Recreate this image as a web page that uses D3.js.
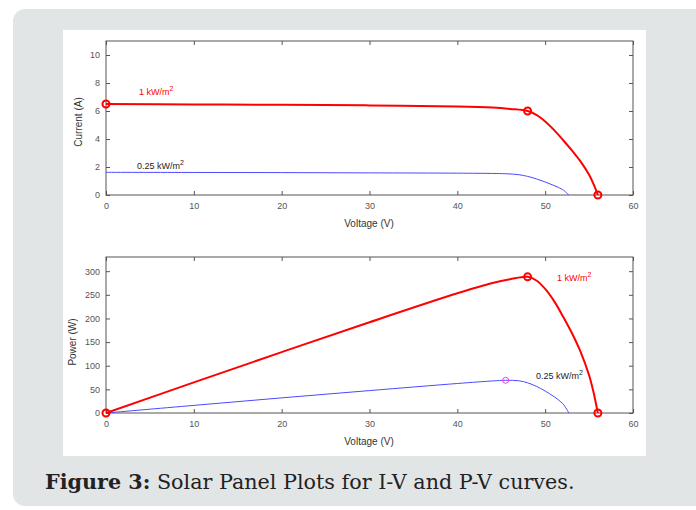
<!DOCTYPE html>
<meta charset="utf-8">
<head>
<style>
  body { margin: 0; background: #fff; }
  .tick text { font-family: "Liberation Sans", Arial, sans-serif; font-size: 9px; fill: #555; }
  .tick line { stroke: #555; }
  .axisText { font-family: "Liberation Sans", Arial, sans-serif; font-size: 10px; fill: #333; }
  .note { font-family: "Liberation Sans", Arial, sans-serif; font-size: 9px; }
</style>
</head>
<body>
<script src="https://d3js.org/d3.v7.min.js"></script>
<script>

// 1 kW/m2 curve
var voltHigh   = [0, 10, 20, 30, 40, 44, 46, 48, 49, 50, 51, 52, 53, 54, 55, 55.5, 56];
var currHigh   = [6.5, 6.47, 6.44, 6.4, 6.33, 6.25, 6.15, 6.0, 5.72, 5.25, 4.65, 3.95, 3.22, 2.42, 1.45, 0.8, 0];
var powerHigh  = [0, 64.7, 128.8, 192, 253.2, 275, 282.9, 288, 280.3, 262.5, 237.2, 205.4, 170.7, 130.7, 79.8, 44.4, 0];
// 0.25 kW/m2 curve
var voltLow    = [0, 10, 20, 30, 40, 44, 45.5, 47, 48, 49, 50, 51, 52, 52.7];
var currLow    = [1.62, 1.61, 1.6, 1.58, 1.56, 1.54, 1.52, 1.45, 1.33, 1.15, 0.93, 0.68, 0.38, 0];
var powerLow   = [0, 16.1, 32, 47.4, 62.4, 67.8, 69.2, 68.2, 63.8, 56.4, 46.5, 34.7, 19.8, 0];
// marked points
var ivMarks    = [[0, 6.5], [48, 6.0], [56, 0]];
var pvMarks    = [[0, 0], [48, 288], [56, 0]];
var pvMarkLow  = [[45.5, 69.2]];

var xTicks  = [0, 10, 20, 30, 40, 50, 60];
var iTicks  = [0, 2, 4, 6, 8, 10];
var pTicks  = [0, 50, 100, 150, 200, 250, 300];

var svg = d3.select("body").append("svg")
    .attr("width", 696)
    .attr("height", 510);

// gray card + white figure area
svg.append("rect")
    .attr("x", 13).attr("y", 9)
    .attr("width", 700).attr("height", 497)
    .attr("rx", 12)
    .attr("fill", "#e2e5e6");
svg.append("rect")
    .attr("x", 63).attr("y", 30)
    .attr("width", 583).attr("height", 426)
    .attr("fill", "#fff");

var x = d3.scaleLinear().domain([0, 60]).range([106, 633]);
var yI = d3.scaleLinear().domain([0, 11]).range([195, 41]);
var yP = d3.scaleLinear().domain([0, 330]).range([413, 257]);

function drawAxes(y, yTicks) {
  var g = svg.append("g");
  var r = y.range();
  g.append("g")
      .attr("transform", "translate(0," + r[0] + ")")
      .call(d3.axisBottom(x).tickValues(xTicks).tickSizeInner(-4).tickSizeOuter(0).tickPadding(8))
      .call(function(s) { s.select(".domain").remove(); });
  g.append("g")
      .attr("transform", "translate(0," + r[1] + ")")
      .call(d3.axisTop(x).tickValues(xTicks).tickSizeInner(-4).tickSizeOuter(0).tickFormat(""))
      .call(function(s) { s.select(".domain").remove(); });
  g.append("g")
      .attr("transform", "translate(" + x(0) + ",0)")
      .call(d3.axisLeft(y).tickValues(yTicks).tickSizeInner(-4).tickSizeOuter(0).tickPadding(6))
      .call(function(s) { s.select(".domain").remove(); });
  g.append("g")
      .attr("transform", "translate(" + x(60) + ",0)")
      .call(d3.axisRight(y).tickValues(yTicks).tickSizeInner(-4).tickSizeOuter(0).tickFormat(""))
      .call(function(s) { s.select(".domain").remove(); });
  g.append("rect")
      .attr("x", x(0)).attr("y", r[1])
      .attr("width", x(60) - x(0)).attr("height", r[0] - r[1])
      .attr("fill", "none").attr("stroke", "#555");
}

drawAxes(yI, iTicks);
drawAxes(yP, pTicks);

function drawCurve(vs, vals, y, color, w) {
  var pts = vs.map(function(v, i) { return [v, vals[i]]; });
  var line = d3.line()
      .x(function(d) { return x(d[0]); })
      .y(function(d) { return y(d[1]); })
      .curve(d3.curveCatmullRom.alpha(0.5));
  svg.append("path")
      .datum(pts)
      .attr("d", line)
      .attr("fill", "none")
      .attr("stroke", color)
      .attr("stroke-width", w);
}

function drawMarks(pts, y, color, r, w) {
  svg.selectAll(null)
      .data(pts)
      .enter().append("circle")
      .attr("cx", function(d) { return x(d[0]); })
      .attr("cy", function(d) { return y(d[1]); })
      .attr("r", r)
      .attr("fill", "none")
      .attr("stroke", color)
      .attr("stroke-width", w);
}

// I-V
drawCurve(voltLow, currLow, yI, "#4a4aff", 1);
drawCurve(voltHigh, currHigh, yI, "#ff0000", 2);
drawMarks(ivMarks, yI, "#ff0000", 3.5, 2);

// P-V
drawCurve(voltLow, powerLow, yP, "#4a4aff", 1);
drawCurve(voltHigh, powerHigh, yP, "#ff0000", 2);
drawMarks(pvMarkLow, yP, "#ff33ff", 3, 1);
drawMarks(pvMarks, yP, "#ff0000", 3.5, 2);

// annotations
function note(px, py, txt, color) {
  var t = svg.append("text")
      .attr("class", "note")
      .attr("x", px).attr("y", py)
      .attr("fill", color)
      .text(txt);
  t.append("tspan").attr("dy", -4).attr("font-size", "7px").text("2");
}
note(139, 95, "1 kW/m", "#ff0000");
note(137, 169, "0.25 kW/m", "#222");
note(557, 281, "1 kW/m", "#ff0000");
note(536, 379, "0.25 kW/m", "#222");

// axis labels
svg.append("text")
    .attr("class", "axisText")
    .attr("x", 369).attr("y", 227)
    .attr("text-anchor", "middle")
    .text("Voltage (V)");
svg.append("text")
    .attr("class", "axisText")
    .attr("x", 369).attr("y", 445)
    .attr("text-anchor", "middle")
    .text("Voltage (V)");
svg.append("text")
    .attr("class", "axisText")
    .attr("transform", "translate(82,122) rotate(-90)")
    .attr("text-anchor", "middle")
    .text("Current (A)");
svg.append("text")
    .attr("class", "axisText")
    .attr("transform", "translate(76,342) rotate(-90)")
    .attr("text-anchor", "middle")
    .text("Power (W)");

// caption
var cap = svg.append("text")
    .attr("x", 45).attr("y", 489)
    .attr("font-family", "'DejaVu Serif', serif")
    .attr("font-size", "20.7px")
    .attr("fill", "#222");
cap.append("tspan").attr("font-weight", "bold").text("Figure 3:");
cap.append("tspan").text(" Solar Panel Plots for I-V and P-V curves.");

</script>
</body>
